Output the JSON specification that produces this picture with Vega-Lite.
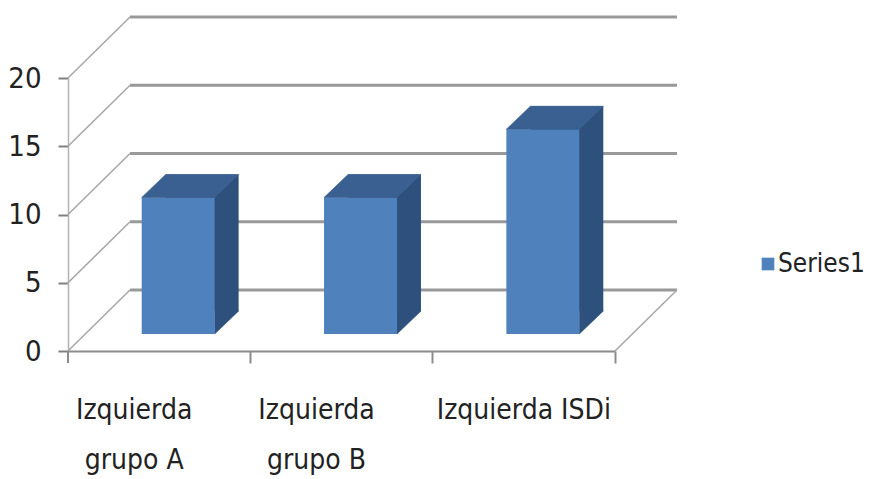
{
  "$schema": "https://vega.github.io/schema/vega-lite/v6.json",
  "width": 547,
  "height": 273,
  "autosize": {"type": "none"},
  "padding": {"left": 68, "top": 78, "right": 265, "bottom": 128},
  "background": "white",
  "config": {
    "view": {"stroke": null},
    "font": "Liberation Sans Narrow, DejaVu Sans Condensed, sans-serif",
    "axisX": {
      "labelAngle": 0,
      "bandPosition": 1,
      "domainColor": "#8c8c8c",
      "domainWidth": 2,
      "tickColor": "#8c8c8c",
      "tickWidth": 2,
      "tickSize": 12,
      "labelFontSize": 28,
      "labelColor": "#222222",
      "labelPadding": 33,
      "labelLineHeight": 50,
      "labelBaseline": "top",
      "labelLimit": 0,
      "labelExpr": "indexof(datum.label, 'grupo') > 0 ? ['Izquierda', substring(datum.label, 10)] : datum.label"
    },
    "axisY": {
      "grid": false,
      "tickCount": 4,
      "domainColor": "#b3b3b3",
      "domainWidth": 1.5,
      "tickColor": "#808080",
      "tickWidth": 2,
      "tickSize": 10,
      "labelFontSize": 29,
      "labelColor": "#222222",
      "labelPadding": 17
    }
  },
  "datasets": {
    "bars": [
      {"category": "Izquierda grupo A", "value": 10},
      {"category": "Izquierda grupo B", "value": 10},
      {"category": "Izquierda ISDi", "value": 15}
    ],
    "levels": [
      {"level": 0},
      {"level": 5},
      {"level": 10},
      {"level": 15},
      {"level": 20}
    ]
  },
  "encoding": {
    "x": {
      "field": "category",
      "type": "nominal",
      "title": null,
      "scale": {"domain": ["Izquierda grupo A", "Izquierda grupo B", "Izquierda ISDi"], "paddingInner": 0, "paddingOuter": 0},
      "axis": {
        "labelOffset": {"condition": {"test": "indexof(datum.value, 'grupo') > 0", "value": -25}, "value": 0}
      }
    },
    "y": {
      "field": "value",
      "type": "quantitative",
      "scale": {"domain": [0, 20]},
      "title": null
    }
  },
  "layer": [
    {
      "data": {"name": "levels"},
      "mark": {"type": "point", "shape": "M-211.5,0 L335.5,0", "size": 4, "filled": false, "opacity": 1, "stroke": "#999999", "strokeWidth": 3, "yOffset": -61},
      "encoding": {
        "x": {"datum": "Izquierda grupo B", "type": "nominal"},
        "y": {"field": "level", "type": "quantitative"}
      }
    },
    {
      "data": {"name": "levels"},
      "mark": {"type": "point", "shape": "M-273.5,0 L-211.5,-61", "size": 4, "filled": false, "opacity": 1, "stroke": "#a6a6a6", "strokeWidth": 1.5},
      "encoding": {
        "x": {"datum": "Izquierda grupo B", "type": "nominal"},
        "y": {"field": "level", "type": "quantitative"}
      }
    },
    {
      "data": {"name": "levels"},
      "transform": [{"filter": "datum.level == 0"}],
      "mark": {"type": "point", "shape": "M273.5,0 L335.5,-61", "size": 4, "filled": false, "opacity": 1, "stroke": "#a6a6a6", "strokeWidth": 1.5},
      "encoding": {
        "x": {"datum": "Izquierda grupo B", "type": "nominal"},
        "y": {"field": "level", "type": "quantitative"}
      }
    },
    {
      "data": {"name": "levels"},
      "transform": [{"filter": "datum.level == 0"}],
      "mark": {"type": "point", "shape": "M-273.5,0 L-273.5,12", "size": 4, "filled": false, "opacity": 1, "stroke": "#8c8c8c", "strokeWidth": 2},
      "encoding": {
        "x": {"datum": "Izquierda grupo B", "type": "nominal"},
        "y": {"field": "level", "type": "quantitative"}
      }
    },
    {
      "data": {"name": "bars"},
      "mark": {"type": "bar", "color": "#2e507d", "width": {"band": 0.4}, "xOffset": 43, "x2Offset": 43, "yOffset": -40, "y2Offset": -40}
    },
    {
      "data": {"name": "bars"},
      "mark": {"type": "point", "shape": "M36.5,0 L36.5,-23 L60.5,-23 Z", "size": 4, "filled": true, "opacity": 1, "color": "#2e507d", "stroke": "#2e507d", "strokeWidth": 0.6, "xOffset": 19, "yOffset": -17},
      "encoding": {
        "y": {"datum": 0, "type": "quantitative"}
      }
    },
    {
      "data": {"name": "bars"},
      "mark": {"type": "bar", "width": {"band": 0.4}, "xOffset": 19, "x2Offset": 19, "yOffset": -17, "y2Offset": -17},
      "encoding": {
        "color": {
          "datum": "Series1",
          "type": "nominal",
          "scale": {"range": ["#4f81bd"]},
          "legend": {
            "orient": "none",
            "legendX": 687,
            "legendY": 173,
            "title": null,
            "padding": 0,
            "symbolType": "square",
            "symbolSize": 160,
            "symbolStrokeWidth": 0,
            "labelFontSize": 26,
            "labelColor": "#222222",
            "labelOffset": -3
          }
        }
      }
    },
    {
      "data": {"name": "bars"},
      "mark": {"type": "point", "shape": "M-36.5,0 L36.5,0 L60.5,-23 L-12.5,-23 Z", "size": 4, "filled": true, "opacity": 1, "color": "#3a6091", "stroke": "#3a6091", "strokeWidth": 0.6, "xOffset": 19, "yOffset": -17}
    }
  ]
}
